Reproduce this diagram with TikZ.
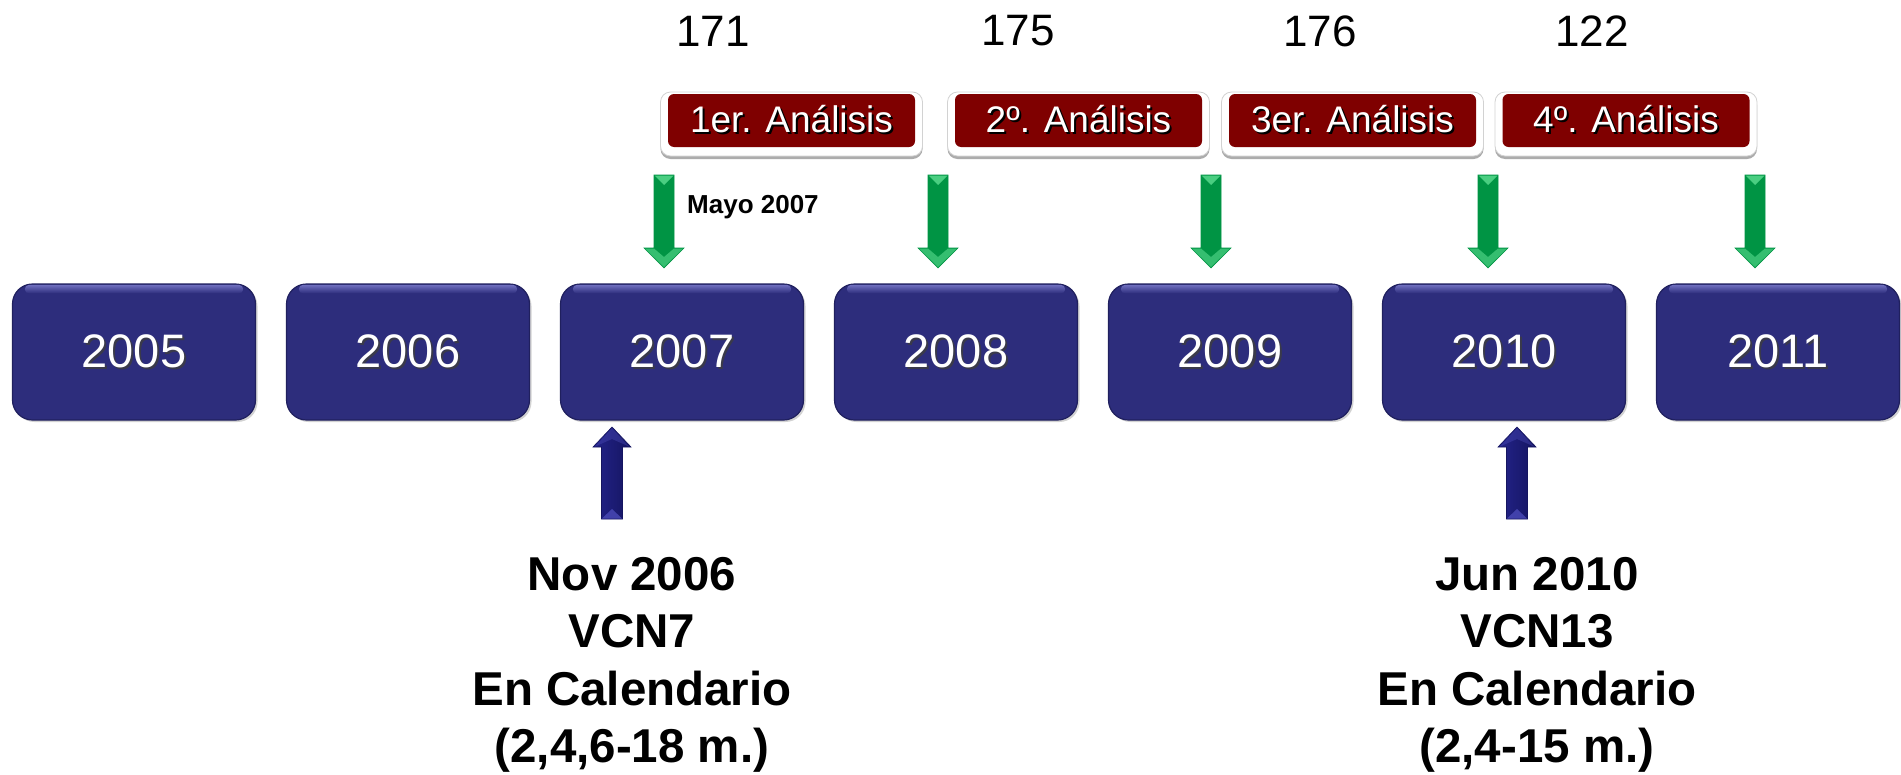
\documentclass[tikz,border=0pt]{standalone}
\usepackage{fontspec}
\setmainfont{Liberation Sans}
\usetikzlibrary{calc,shadows}
\definecolor{yearblue}{HTML}{2D2D7C}
\definecolor{yearedge}{HTML}{20205E}
\definecolor{hiblue}{HTML}{6E6EBE}
\definecolor{yrshadow}{HTML}{3A3A4A}
\definecolor{anared}{HTML}{7F0000}
\definecolor{grmid}{HTML}{00B454}
\definecolor{grdark}{HTML}{009444}
\definecolor{grlight}{HTML}{6AE89C}
\definecolor{arblue}{HTML}{23238A}
\definecolor{ardark}{HTML}{151560}
\definecolor{arlight}{HTML}{4B4BB8}
\newcommand{\shtext}[2]{\rlap{\kern2pt\raisebox{-2pt}{\textcolor{#2}{#1}}}#1}
\begin{document}
\begin{tikzpicture}[x=1pt,y=-1pt,
  yearbox/.style={rounded corners=20pt, minimum width=243pt, minimum height=136pt,
    fill=yearblue, draw=yearedge, line width=1.2pt, text=white, inner sep=0pt,
    font=\fontsize{47}{50}\selectfont,
    drop shadow={shadow xshift=2pt, shadow yshift=-2pt, opacity=0.35}},
  anabox/.style={fill=anared, rounded corners=6pt, minimum width=247pt, minimum height=53pt,
    text=white, inner sep=0pt, font=\fontsize{37}{40}\selectfont},
  numtxt/.style={font=\fontsize{44}{48}\selectfont, inner sep=0pt},
  bottomtxt/.style={align=center, inner sep=0pt, font=\fontsize{47.5}{57.5}\bfseries\selectfont},
  garrow/.pic={
    \path[draw=grdark, line width=0.6pt, left color=grdark, middle color=grmid, right color=grdark]
      (-10,0) -- (10,0) -- (10,73) -- (20,73) -- (0,93) -- (-20,73) -- (-10,73) -- cycle;
    \fill[grlight, opacity=0.7] (-9.5,0.5) -- (9.5,0.5) -- (0,10) -- cycle;
    \fill[grlight, opacity=0.5] (-19,73.5) -- (-10,73.5) -- (0,82) -- (10,73.5) -- (19,73.5) -- (0,92) -- cycle;
  },
  barrow/.pic={
    \path[draw=ardark, line width=0.6pt, left color=arblue, middle color=arblue, right color=ardark]
      (0,0) -- (19,20) -- (10.5,20) -- (10.5,92) -- (-10.5,92) -- (-10.5,20) -- (-19,20) -- cycle;
    \fill[arlight, opacity=0.8] (-10,91.5) -- (10,91.5) -- (0,82) -- cycle;
    \fill[arlight, opacity=0.4] (0,1) -- (-17,19.5) -- (0,12) -- (17,19.5) -- cycle;
  }]
\fill[white] (0,0) rectangle (1901,774);
\useasboundingbox (0,0) rectangle (1901,774);

% top numbers
\node[numtxt] (n1) at (713,31) {171};
\node[numtxt] (n2) at (1018,31) {175};
\node[numtxt] (n3) at (1320,31) {176};
\node[numtxt] (n4) at (1592,31) {122};

% analysis boxes
\foreach \cx/\lab/\nm in {791.5/1er. Análisis/a1, 1078.5/2º. Análisis/a2, 1352.5/3er. Análisis/a3, 1626/4º. Análisis/a4}{
  \fill[gray!65, rounded corners=10pt] (\cx-131,95) rectangle (\cx+131,159);
  \filldraw[fill=white, draw=gray!35, line width=0.8pt, rounded corners=10pt] (\cx-131,92) rectangle (\cx+131,156);
  \node[anabox] (\nm) at (\cx,120.5) {\shtext{\lab}{black}};
}

% green arrows
\foreach \gx in {664,938,1211,1488,1755}{
  \pic at (\gx,175) {garrow};
}
\node[anchor=west, inner sep=0pt, font=\fontsize{26}{28}\bfseries\selectfont] (mayo) at (687,207) {Mayo 2007};

% year boxes
\foreach \yr [count=\i from 0] in {2005,2006,2007,2008,2009,2010,2011}{
  \node[yearbox] (y\yr) at (134+274*\i,352) {\shtext{\yr}{yrshadow}};
  \shade[top color=hiblue, bottom color=yearblue, rounded corners=4pt]
    ($(y\yr.north west)+(13,1.5)$) rectangle ($(y\yr.north east)+(-13,10)$);
}

% blue arrows
\pic at (612,427) {barrow};
\pic at (1517,427) {barrow};

% bottom texts
\node[bottomtxt, anchor=north] (vcn7) at (632,557) {Nov 2006\\VCN7\\En Calendario\\(2,4,6-18 m.)};
\node[bottomtxt, anchor=north] (vcn13) at (1537,557) {Jun 2010\\VCN13\\En Calendario\\(2,4-15 m.)};
\end{tikzpicture}
\end{document}
